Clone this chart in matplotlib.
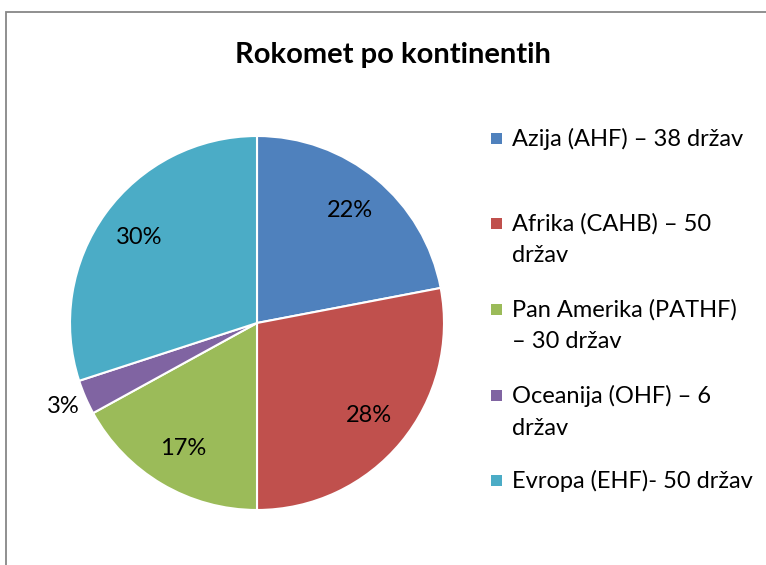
import numpy as np
import matplotlib.pyplot as plt
from matplotlib.patches import Rectangle

plt.rcParams['font.family'] = ['Lato', 'DejaVu Sans']

# data (shares in % as shown on the chart)
labels = ['Azija (AHF) – 38 držav',
          'Afrika (CAHB) – 50\ndržav',
          'Pan Amerika (PATHF)\n– 30 držav',
          'Oceanija (OHF) – 6\ndržav',
          'Evropa (EHF)- 50 držav']
shares = [22, 28, 17, 3, 30]
colors = ['#4F81BD', '#C0504D', '#9BBB59', '#8064A2', '#4BACC6']

W, H = 766, 565
fig = plt.figure(figsize=(W / 100, H / 100), dpi=100)

# chart frame (cropped at right and bottom)
fig.patches.append(Rectangle((6 / W, -0.1), 1.2, (H - 12) / H + 0.1,
                             transform=fig.transFigure, fill=False,
                             edgecolor='#878787', linewidth=1.3))

# pie axes: centre (257, 323) px, radius 187 px
cx, cy, r = 257, H - 323, 187
ax = fig.add_axes([(cx - r) / W, (cy - r) / H, 2 * r / W, 2 * r / H])
wedges, texts, autotexts = ax.pie(shares, colors=colors, startangle=90,
                                  counterclock=False, autopct='%.0f%%',
                                  pctdistance=0.78,
                                  wedgeprops=dict(edgecolor='white', linewidth=1.5),
                                  textprops=dict(fontsize=17, color='black'))
ax.set_xlim(-1, 1)
ax.set_ylim(-1, 1)
ax.set_aspect('equal')

# small slice: label outside
for w, t, s in zip(wedges, autotexts, shares):
    if s < 5:
        ang = np.deg2rad((w.theta1 + w.theta2) / 2)
        t.set_position((1.13 * np.cos(ang), 1.13 * np.sin(ang)))

fig.text(393 / W, 1 - 55 / H, 'Rokomet po kontinentih', ha='center', va='center',
         fontsize=21, fontweight='bold')

# legend
line_y = [138, 223, 309, 395, 480]
for lab, col, y in zip(labels, colors, line_y):
    fig.patches.append(Rectangle((491 / W, 1 - (y + 6) / H), 11 / W, 11 / H,
                                 transform=fig.transFigure, facecolor=col,
                                 edgecolor='none'))
    fig.text(512 / W, 1 - (y - 10) / H, lab, ha='left', va='top',
             fontsize=17, linespacing=1.62)

fig.savefig('out.png', dpi=100, facecolor='white')
